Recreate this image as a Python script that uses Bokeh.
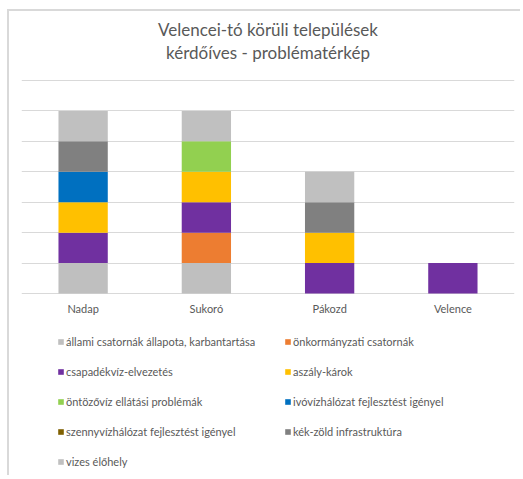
from bokeh.plotting import figure
from bokeh.models import Range1d, Legend, LegendItem, Title, FixedTicker
from bokeh.embed import file_html
from bokeh.resources import INLINE
from bokeh.core.properties import value

towns = ["Nadap", "Sukoró", "Pákozd", "Velence"]

problems = [
    "állami csatornák állapota, karbantartása",
    "önkormányzati csatornák",
    "csapadékvíz-elvezetés",
    "aszály-károk",
    "öntözővíz ellátási problémák",
    "ivóvízhálózat fejlesztést igényel",
    "szennyvízhálózat fejlesztést igényel",
    "kék-zöld infrastruktúra",
    "vizes élőhely",
]
keys = ["allami", "onkorm", "csapadek", "aszaly", "ontozo", "ivoviz", "szennyviz", "kekzold", "vizes"]
colors = ["#BFBFBF", "#ED7D31", "#7030A0", "#FFC000", "#92D050",
          "#0070C0", "#7F6000", "#808080", "#C0C0C0"]

allami    = [1, 1, 0, 0]
onkorm    = [0, 1, 0, 0]
csapadek  = [1, 1, 1, 1]
aszaly    = [1, 1, 1, 0]
ontozo    = [0, 1, 0, 0]
ivoviz    = [1, 0, 0, 0]
szennyviz = [0, 0, 0, 0]
kekzold   = [1, 0, 1, 0]
vizes     = [1, 1, 1, 0]

gridline_values = [0, 1, 2, 3, 4, 5, 6, 7]

title_lines = ["Velencei-tó körüli települések", "kérdőíves - problématérkép"]

data = dict(town=towns, allami=allami, onkorm=onkorm, csapadek=csapadek, aszaly=aszaly,
            ontozo=ontozo, ivoviz=ivoviz, szennyviz=szennyviz, kekzold=kekzold, vizes=vizes)

TXT = "#595959"
FONT = "Lato"

# the frame spans from just under the title down to the bottom of the legend area
p = figure(x_range=towns, y_range=Range1d(-6.047, 7.591), width=513, height=466,
           output_backend="svg", toolbar_location=None,
           x_axis_location=None, y_axis_location=None,
           min_border_left=12, min_border_right=8, min_border_top=51, min_border_bottom=0,
           title=None)
p.styles = {"border-left": "2px solid #D9D9D9", "border-top": "2px solid #D9D9D9",
            "margin-left": "7px", "margin-top": "9px"}
p.outline_line_color = None
p.background_fill_color = "white"
p.border_fill_color = "white"

p.xgrid.visible = False
p.ygrid.ticker = FixedTicker(ticks=gridline_values)
p.ygrid.grid_line_color = "#D9D9D9"
p.ygrid.grid_line_width = 1

renderers = p.vbar_stack(keys, x="town", width=0.4, source=data, color=colors, line_color=None)

# category labels under the baseline
p.text(x=towns, y=0, text=towns, y_offset=15, text_align="center", text_baseline="middle",
       text_font=value(FONT), text_font_size="11px", text_color=TXT)

items = [LegendItem(label=lab, renderers=[r]) for lab, r in zip(problems, renderers)]
legend = Legend(items=items, orientation="horizontal", ncols=2, location=(36, 6),
                margin=0, padding=0, spacing=10, label_height=20, label_width=208,
                glyph_width=7, glyph_height=7, label_standoff=2,
                label_text_font=FONT, label_text_font_size="11px", label_text_color=TXT,
                border_line_color=None, background_fill_alpha=0)
p.add_layout(legend, "center")

# second line closest to the frame, first line above it
for line in reversed(title_lines):
    p.add_layout(Title(text=line, align="center", text_font=FONT, text_font_size="17px",
                       text_font_style="normal", text_color=TXT, standoff=0), "above")

open("out.html", "w").write(file_html(p, INLINE))
